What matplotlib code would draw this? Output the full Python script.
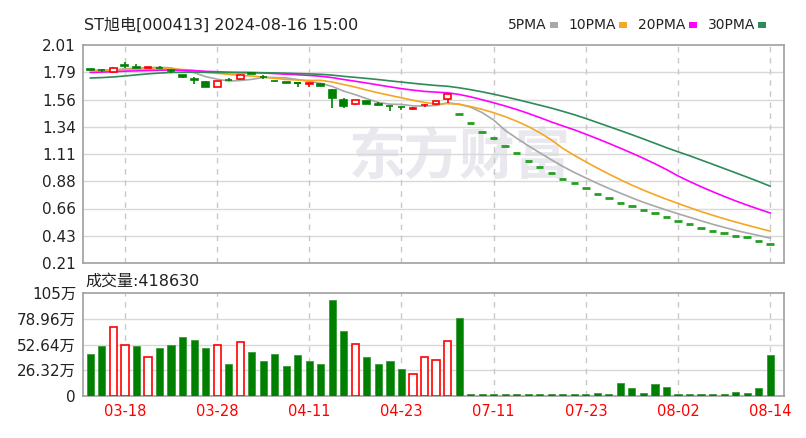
import matplotlib
matplotlib.use('Agg')
import matplotlib.pyplot as plt
import numpy as np
import pandas as pd
from matplotlib.patches import Rectangle

plt.rcParams['font.family'] = ['DejaVu Sans', 'Noto Sans CJK SC']

# ---------------- data ----------------
dates = ['03-13', '03-14', '03-15', '03-18', '03-19', '03-20', '03-21', '03-22', '03-25', '03-26',
         '03-27', '03-28', '03-29', '04-01', '04-02', '04-03', '04-08', '04-09', '04-10', '04-11',
         '04-12', '04-15', '04-16', '04-17', '04-18', '04-19', '04-22', '04-23', '04-24', '04-25',
         '04-26', '04-29', '07-08', '07-09', '07-10', '07-11', '07-12', '07-15', '07-16', '07-17',
         '07-18', '07-19', '07-22', '07-23', '07-24', '07-25', '07-26', '07-29', '07-30', '07-31',
         '08-01', '08-02', '08-05', '08-06', '08-07', '08-08', '08-09', '08-12', '08-13', '08-14']

limit_days = [1.443, 1.368, 1.294, 1.241, 1.180, 1.120, 1.056, 1.004, 0.954, 0.904,
              0.871, 0.829, 0.780, 0.746, 0.708, 0.677, 0.644, 0.619, 0.586, 0.558,
              0.531, 0.498, 0.478, 0.456, 0.434, 0.423, 0.395, 0.370]

open_ = [1.812, 1.807, 1.785, 1.845, 1.828, 1.824, 1.822, 1.800, 1.763, 1.730,
         1.705, 1.667, 1.721, 1.727, 1.777, 1.748, 1.715, 1.702, 1.700, 1.690,
         1.686, 1.640, 1.560, 1.520, 1.547, 1.522, 1.508, 1.500, 1.479, 1.512,
         1.520, 1.562] + limit_days
close = [1.805, 1.803, 1.820, 1.840, 1.824, 1.828, 1.818, 1.795, 1.742, 1.725,
         1.665, 1.713, 1.717, 1.763, 1.773, 1.744, 1.711, 1.698, 1.697, 1.694,
         1.672, 1.575, 1.505, 1.553, 1.526, 1.518, 1.504, 1.496, 1.493, 1.516,
         1.547, 1.608] + limit_days
high = [1.815, 1.815, 1.825, 1.866, 1.850, 1.830, 1.840, 1.800, 1.765, 1.746,
        1.710, 1.716, 1.740, 1.765, 1.780, 1.760, 1.716, 1.704, 1.700, 1.694,
        1.690, 1.650, 1.570, 1.555, 1.548, 1.540, 1.508, 1.500, 1.495, 1.525,
        1.548, 1.610] + limit_days
low = [1.800, 1.790, 1.780, 1.820, 1.822, 1.820, 1.816, 1.780, 1.740, 1.690,
       1.660, 1.664, 1.715, 1.725, 1.770, 1.730, 1.708, 1.695, 1.667, 1.660,
       1.670, 1.493, 1.493, 1.515, 1.524, 1.516, 1.465, 1.475, 1.475, 1.500,
       1.518, 1.534] + limit_days

# closes before the visible window (needed for the moving averages)
prior_closes = [1.70, 1.66, 1.60, 1.55, 1.58, 1.62, 1.65, 1.68, 1.70, 1.72,
                1.74, 1.76, 1.75, 1.77, 1.78, 1.76, 1.77, 1.79, 1.78, 1.77,
                1.78, 1.80, 1.81, 1.79, 1.80, 1.82, 1.80, 1.79, 1.80]

volume_wan = [42.9, 50.8, 70.3, 51.8, 50.8, 39.8, 49.0, 52.1, 60.0, 56.9,
              49.0, 51.8, 32.2, 54.9, 44.6, 35.3, 42.9, 30.5, 41.5, 35.3,
              32.2, 98.4, 66.2, 53.1, 39.8, 32.2, 35.3, 27.4, 22.6, 39.8,
              36.3, 56.6, 79.9, 1.8, 1.8, 1.8, 1.8, 1.8, 1.8, 1.8,
              1.8, 1.8, 1.8, 1.8, 2.9, 1.8, 13.7, 7.9, 3.1, 12.3,
              9.2, 1.8, 1.8, 1.8, 1.8, 1.8, 4.4, 3.1, 7.9, 41.863]
volume_up = [0, 0, 1, 1, 0, 1, 0, 0, 0, 0,
             0, 1, 0, 1, 0, 0, 0, 0, 0, 0,
             0, 0, 0, 1, 0, 0, 0, 0, 1, 1,
             1, 1, 0, 0, 0, 0, 0, 0, 0, 0,
             0, 0, 0, 0, 0, 0, 0, 0, 0, 0,
             0, 0, 0, 0, 0, 0, 0, 0, 0, 0]

price_tick_labels = ['0.21', '0.43', '0.66', '0.88', '1.11', '1.34', '1.56', '1.79', '2.01']
vol_tick_values = [0, 26.32, 52.64, 78.96, 105.28]
vol_tick_labels = ['0', '26.32万', '52.64万', '78.96万', '105万']
ma_periods = [5, 10, 20, 30]
ma_names = ['5PMA', '10PMA', '20PMA', '30PMA']
title = 'ST旭电[000413] 2024-08-16 15:00'
vol_title = '成交量:418630'

# ---------------- style ----------------
RED = '#ff0000'
GREEN = '#008000'
DASH_GREEN = '#23a023'
MA_COLORS = ['#a8a8a8', '#f5a623', '#ff00ff', '#2e8b57']
GRID = '#d8d8d8'
FRAME = '#a0a0a0'

W, H = 806, 438
fig = plt.figure(figsize=(W / 100, H / 100), dpi=100)
fig.patch.set_facecolor('white')
L, R = 83, 784
ax = fig.add_axes([L / W, 1 - 263 / H, (R - L) / W, (263 - 45) / H])
axv = fig.add_axes([L / W, 1 - 396 / H, (R - L) / W, (396 - 293) / H])

n = len(close)
x = np.arange(n)
xlim = (-0.64, 60.2)

# watermark (behind the data)
ax.text(0.57, 0.64, '东方财富', transform=fig.transFigure, fontsize=40, fontweight='bold',
        color='#e8e8ee', family=['Noto Sans CJK SC'], ha='center', va='center', zorder=0.5)

# moving averages
allc = pd.Series(prior_closes + close)
for p, col in zip(ma_periods, MA_COLORS):
    ma = allc.rolling(p).mean().iloc[len(prior_closes):].to_numpy()
    ax.plot(x, ma, color=col, lw=1.2, zorder=3)

# candles
bw = 0.6
for i in range(n):
    o, c, h, l = open_[i], close[i], high[i], low[i]
    if h == l:
        ax.hlines(c, i - 0.32, i + 0.32, color=DASH_GREEN, lw=2.0, zorder=4)
        continue
    up = c > o
    col = RED if up else GREEN
    top, bot = max(o, c), min(o, c)
    ax.vlines(i, top, h, color=col, lw=1.2, zorder=4)
    ax.vlines(i, l, bot, color=col, lw=1.2, zorder=4)
    if top - bot < 0.004:
        ax.hlines((top + bot) / 2, i - bw / 2, i + bw / 2, color=col, lw=1.5, zorder=4)
    else:
        ax.add_patch(Rectangle((i - bw / 2, bot), bw, top - bot,
                               facecolor='white' if up else col, edgecolor=col,
                               lw=1.2, zorder=5))

ax.set_xlim(*xlim)
ax.set_ylim(0.21, 2.01)
pticks = np.linspace(0.21, 2.01, 9)
ax.set_yticks(pticks)
ax.set_yticklabels(price_tick_labels)
for yv in pticks[1:-1]:
    ax.axhline(yv, color=GRID, lw=1, zorder=1)

# volume
for i in range(n):
    v = volume_wan[i]
    if volume_up[i]:
        axv.bar(i, v, width=0.62, facecolor='white', edgecolor=RED, lw=1.2, zorder=3)
    else:
        axv.bar(i, v, width=0.62, facecolor=GREEN, edgecolor='#3a9a3a', lw=0.6, zorder=3)
axv.set_xlim(*xlim)
axv.set_ylim(0, 105.28)
axv.set_yticks(vol_tick_values)
axv.set_yticklabels(vol_tick_labels)
for yv in vol_tick_values[1:-1]:
    axv.axhline(yv, color=GRID, lw=1, zorder=1)

# date ticks every 8 bars
tick_idx = list(range(3, n, 8))
for a in (ax, axv):
    for t in tick_idx:
        a.axvline(t, color='#c8c8c8', lw=1, ls=(0, (4, 4)), zorder=1)
    for s in a.spines.values():
        s.set_color(FRAME)
        s.set_linewidth(1.2)
    a.tick_params(length=0, labelsize=11, colors='#222222', pad=5)
    a.set_facecolor('white')
ax.set_xticks([])
axv.set_xticks(tick_idx)
axv.set_xticklabels([dates[t] for t in tick_idx], color=RED, fontsize=10.5)
axv.tick_params(axis='x', pad=6, labelcolor=RED)

# titles and legend
fig.text(84 / W, 1 - 25 / H, title, fontsize=11.5, color='#222222', va='center', ha='left')
fig.text(85 / W, 1 - 281 / H, vol_title, fontsize=11.5, color='#222222', va='center', ha='left')

lx = 508
for name, col in zip(ma_names, MA_COLORS):
    t = fig.text(lx / W, 1 - 25 / H, name, fontsize=10, color='#222222', va='center', ha='left')
    fig.canvas.draw()
    bb = t.get_window_extent()
    sx = bb.x1 + 3
    fig.patches.append(Rectangle((sx / W, 1 - 28 / H), 8 / W, 6 / H, transform=fig.transFigure,
                                 facecolor=col, edgecolor='none', figure=fig))
    lx = sx + 8 + 11

fig.savefig('out.png', dpi=100, facecolor='white')
